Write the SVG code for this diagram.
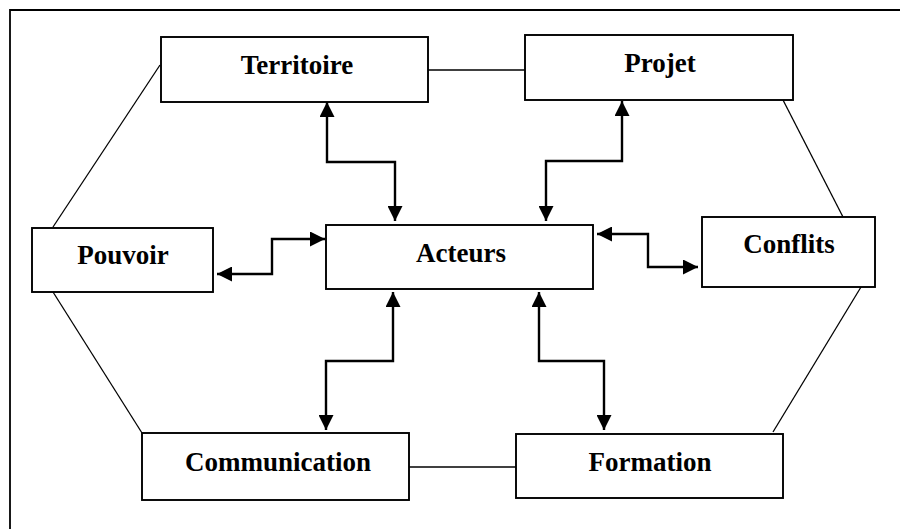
<svg xmlns="http://www.w3.org/2000/svg" width="900" height="529" viewBox="0 0 900 529">
  <style>
    .frame { fill: none; stroke: #000; stroke-width: 1.8; }
    .box { fill: #fff; stroke: #000; stroke-width: 1.9; }
    .label { font-family: "Liberation Serif", "Times New Roman", serif; font-weight: bold; font-size: 27px; text-anchor: middle; fill: #000; }
    .link { fill: none; stroke: #000; stroke-width: 1.3; }
    .arrow { fill: none; stroke: #000; stroke-width: 2.4; marker-start: url(#head); marker-end: url(#head); }
  </style>
  <defs>
    <marker id="head" viewBox="0 0 10 10" refX="10" refY="5" markerWidth="15" markerHeight="15" markerUnits="userSpaceOnUse" orient="auto-start-reverse">
      <path d="M0,0 L10,5 L0,10 Z" fill="#000"/>
    </marker>
  </defs>

  <rect width="900" height="529" fill="#fff"/>
  <!-- outer frame, open to the right and bottom -->
  <path class="frame" d="M10,529 L10,10 L900,10"/>

  <g id="connectors">
    <!-- outer ring -->
    <line class="link" x1="428" y1="70" x2="525" y2="70"/>
    <line class="link" x1="409" y1="467" x2="516" y2="467"/>
    <line class="link" x1="160" y1="65" x2="53" y2="227"/>
    <line class="link" x1="53" y1="292" x2="142" y2="433"/>
    <line class="link" x1="783" y1="100" x2="843" y2="217"/>
    <line class="link" x1="861" y1="287" x2="773" y2="432"/>
    <!-- two-way arrows to Acteurs -->
    <path class="arrow" d="M327,102 L327,162 L395,162 L395,221"/>
    <path class="arrow" d="M622,101 L622,161 L546,161 L546,221"/>
    <path class="arrow" d="M325,239 L272,239 L272,274 L217,274"/>
    <path class="arrow" d="M597,234 L648,234 L648,267 L698,267"/>
    <path class="arrow" d="M393,292 L393,361 L326,361 L326,430"/>
    <path class="arrow" d="M539,292 L539,361 L604,361 L604,430"/>
  </g>

  <g id="territoire">
    <rect class="box" x="161" y="37" width="267" height="65"/>
    <text class="label" x="297" y="74">Territoire</text>
  </g>
  <g id="projet">
    <rect class="box" x="525" y="35" width="268" height="65"/>
    <text class="label" x="660" y="72">Projet</text>
  </g>
  <g id="pouvoir">
    <rect class="box" x="32" y="228" width="181" height="64"/>
    <text class="label" x="123" y="264">Pouvoir</text>
  </g>
  <g id="acteurs">
    <rect class="box" x="326" y="225" width="267" height="64"/>
    <text class="label" x="461" y="262">Acteurs</text>
  </g>
  <g id="conflits">
    <rect class="box" x="702" y="217" width="173" height="70"/>
    <text class="label" x="789" y="253">Conflits</text>
  </g>
  <g id="communication">
    <rect class="box" x="142" y="433" width="267" height="67"/>
    <text class="label" x="278" y="471">Communication</text>
  </g>
  <g id="formation">
    <rect class="box" x="516" y="434" width="267" height="64"/>
    <text class="label" x="650" y="471">Formation</text>
  </g>
</svg>
